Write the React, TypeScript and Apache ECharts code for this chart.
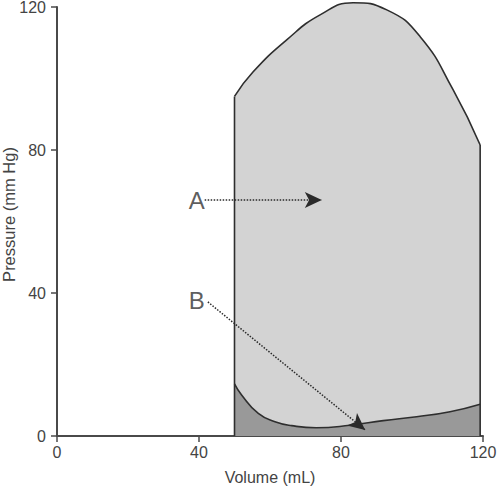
import React, { useEffect, useRef } from "react";
import * as echarts from "echarts";

// Upper (systolic / ejection) boundary of the loop: [volume mL, pressure mmHg]
const upperCurve: [number, number][] = [
  [50, 95], [55.2, 101.8], [64.7, 110.8], [74.1, 117.8], [83.4, 121.2],
  [92.9, 119.2], [102.3, 111.7], [111.6, 96.8], [119.2, 81.4],
];
// Lower (diastolic filling) boundary: [volume mL, pressure mmHg]
const lowerCurve: [number, number][] = [
  [50, 14.6], [52, 11.5], [56.7, 6.3], [61.4, 4.0], [66.1, 2.9], [73, 2.3],
  [82.5, 3.0], [91.9, 4.3], [101.3, 5.4], [110.7, 6.8], [119.2, 8.9],
];
// Annotation labels and their arrows
const annotLabels = ["A", "B"];
const annotLabelPos: [number, number][] = [[39.4, 66], [39.4, 38]];
const annotArrowStart: [number, number][] = [[41.6, 66], [42.5, 37.5]];
const annotArrowEnd: [number, number][] = [[74.6, 66], [86.8, 1.7]];

const xTicks = [0, 40, 80, 120];
const yTicks = [0, 40, 80, 120];

const FONT = "Liberation Sans, Arial, Helvetica, sans-serif";

export default function App() {
  const ref = useRef<HTMLDivElement>(null);
  useEffect(() => {
    if (!ref.current) return;
    const chart = echarts.init(ref.current, null, { renderer: "svg" });
    const outline = "#2e2e2e";
    const axisColor = "#4a4a4a";
    const left = upperCurve[0];
    const right = upperCurve[upperCurve.length - 1];
    chart.setOption({
      animation: false,
      backgroundColor: "#ffffff",
      grid: {
        left: 57, right: 17, top: 7, bottom: 52,
        containLabel: false, outerBoundsMode: "none",
      },
      xAxis: {
        type: "value",
        min: xTicks[0],
        max: xTicks[xTicks.length - 1],
        interval: 40,
        name: "Volume (mL)",
        nameLocation: "middle",
        nameGap: 33,
        nameMoveOverlap: false,
        nameTextStyle: { fontFamily: FONT, fontSize: 16, color: "#444" },
        axisLine: { show: true, lineStyle: { color: axisColor, width: 2 } },
        axisTick: { show: true, length: 6, lineStyle: { color: axisColor, width: 1.5 } },
        axisLabel: { fontFamily: FONT, fontSize: 16, color: "#444", margin: 8 },
        splitLine: { show: false },
      },
      yAxis: {
        type: "value",
        min: yTicks[0],
        max: yTicks[yTicks.length - 1],
        interval: 40,
        name: "Pressure (mm Hg)",
        nameLocation: "middle",
        nameGap: 40,
        nameMoveOverlap: false,
        nameTextStyle: { fontFamily: FONT, fontSize: 16.5, color: "#444", padding: [0, 0, 0, 14] },
        axisLine: { show: true, lineStyle: { color: axisColor, width: 2 } },
        axisTick: { show: true, length: 6, lineStyle: { color: axisColor, width: 1.5 } },
        axisLabel: { fontFamily: FONT, fontSize: 16, color: "#444", margin: 11 },
        splitLine: { show: false },
      },
      series: [
        {
          type: "line",
          data: upperCurve,
          smooth: 0.5,
          clip: false,
          showSymbol: false,
          lineStyle: { color: outline, width: 1.6 },
          areaStyle: { color: "#d3d3d3", opacity: 1, origin: "start" },
          z: 2,
        },
        {
          type: "line",
          data: lowerCurve,
          smooth: 0.5,
          clip: false,
          showSymbol: false,
          lineStyle: { color: outline, width: 1.6 },
          areaStyle: { color: "#999999", opacity: 1, origin: "start" },
          z: 3,
        },
        {
          type: "line",
          data: [[left[0], 0], [left[0], left[1]]],
          showSymbol: false,
          lineStyle: { color: outline, width: 1.6 },
          z: 4,
        },
        {
          type: "line",
          data: [[right[0], 0], [right[0], right[1]]],
          showSymbol: false,
          lineStyle: { color: outline, width: 1.6 },
          z: 4,
        },
        {
          type: "scatter",
          data: annotLabelPos.map((p, i) => ({ value: p, name: annotLabels[i] })),
          symbolSize: 0,
          z: 6,
          label: {
            show: true,
            position: "inside",
            formatter: (p: any) => p.name,
            fontFamily: FONT,
            fontSize: 24,
            color: "#333",
          },
          markLine: {
            silent: true,
            symbol: ["none", "arrow"],
            symbolSize: [12, 17],
            label: { show: false },
            lineStyle: { color: "#2a2a2a", width: 1.5, type: [1.5, 1.5] },
            data: annotArrowStart.map((s, i) => [
              { coord: s },
              { coord: annotArrowEnd[i] },
            ]),
            z: 6,
          },
        },
      ],
    });
    return () => chart.dispose();
  }, []);
  return (
    <div
      ref={ref}
      style={{ position: "fixed", left: 0, top: 0, width: 500, height: 488 }}
    />
  );
}
